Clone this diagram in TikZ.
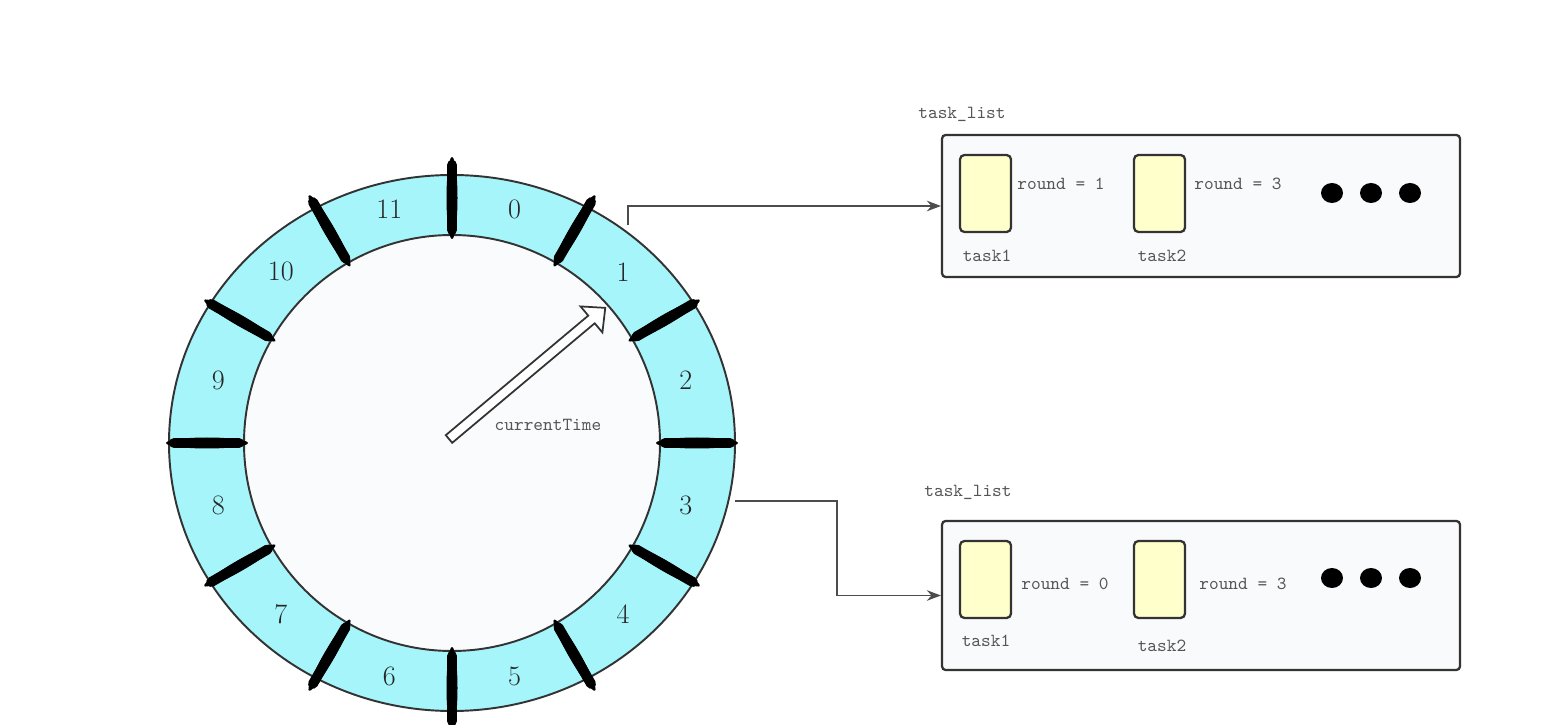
\documentclass[tikz,border=0pt]{standalone}
\usetikzlibrary{arrows.meta,calc}
\definecolor{ringcyan}{RGB}{166,245,250}
\definecolor{facewhite}{RGB}{250,251,252}
\definecolor{taskyellow}{RGB}{255,255,204}
\definecolor{boxgray}{RGB}{249,250,251}
\definecolor{edgegray}{RGB}{51,51,51}
\definecolor{textgray}{RGB}{85,85,85}
\begin{document}
\begin{tikzpicture}[x=0.02cm, y=0.02cm,
    slotnum/.style={font=\fontsize{16}{18}\selectfont, text=black!85},
    smalltext/.style={font=\ttfamily\fontsize{10.5}{12}\selectfont, text=textgray},
    listbox/.style={draw=edgegray, line width=1.3pt, fill=boxgray, rounded corners=2pt, minimum width=10.36cm},
    taskbox/.style={draw=edgegray, line width=1.3pt, fill=taskyellow, rounded corners=2.5pt, minimum width=1.02cm, minimum height=1.54cm},
    link/.style={draw=black!70, line width=0.9pt, -{Stealth[length=8pt,width=6pt]}}]
    \useasboundingbox (0,0) rectangle (1548,724);

    % Timing wheel
    \coordinate (c) at (452,281);
    \draw[draw=edgegray, line width=1.1pt, fill=ringcyan] (c) ellipse (283 and 268);
    \draw[draw=edgegray, line width=1.1pt, fill=facewhite] (c) circle (208);
    \foreach \a in {0,30,...,330} {
        \draw[shift={(c)}, rotate=\a, line width=0.2cm, line cap=round] (213,0) -- (278,0);
        \fill[shift={(c)}, rotate=\a] (245,0) ellipse (41 and 5.5);
    }
    \foreach \k in {0,...,11} {
        \pgfmathsetmacro{\ang}{75-30*\k}
        \node[slotnum] (slot\k) at ($(c)+(\ang:242)$) {\k};
    }

    % currentTime pointer
    \begin{scope}[shift={(449,285)}, rotate=40]
        \draw[draw=edgegray, line width=1pt, fill=white] (0,-5) -- (186,-5) -- (186,-17) -- (204,0) -- (186,17) -- (186,5) -- (0,5) -- cycle;
    \end{scope}
    \node[smalltext] (now) at (548,299) {currentTime};

    % Upper task list
    \node[smalltext] (title1) at (962,610) {task\_list};
    \node[listbox, minimum height=2.84cm] (list1) at (1201,518) {};
    \node[taskbox] (ta1) at (985.5,530.5) {};
    \node[taskbox] (ta2) at (1159.5,530.5) {};
    \node[smalltext] (na1) at (987,468) {task1};
    \node[smalltext] (na2) at (1162,468) {task2};
    \node[smalltext] (ra1) at (1061,540) {round = 1};
    \node[smalltext] (ra2) at (1238,540) {round = 3};
    \foreach \x in {1332,1371,1410} {
        \fill (\x,531) ellipse (11 and 10);
    }

    % Lower task list
    \node[smalltext] (title2) at (968,232) {task\_list};
    \node[listbox, minimum height=2.98cm] (list2) at (1201,128.5) {};
    \node[taskbox] (tb1) at (985.5,144.5) {};
    \node[taskbox] (tb2) at (1159.5,144.5) {};
    \node[smalltext] (nb1) at (986,83) {task1};
    \node[smalltext] (nb2) at (1162,78) {task2};
    \node[smalltext] (rb1) at (1065,140) {round = 0};
    \node[smalltext] (rb2) at (1243,140) {round = 3};
    \foreach \x in {1332,1371,1410} {
        \fill (\x,146) ellipse (11 and 10);
    }

    % Slot to list links
    \coordinate (out1) at (628,499);
    \coordinate (out3) at (735,223);
    \draw[link] (out1) |- (list1.west);
    \draw[link] (out3) -- ++(102,0) |- (list2.west);
\end{tikzpicture}
\end{document}
